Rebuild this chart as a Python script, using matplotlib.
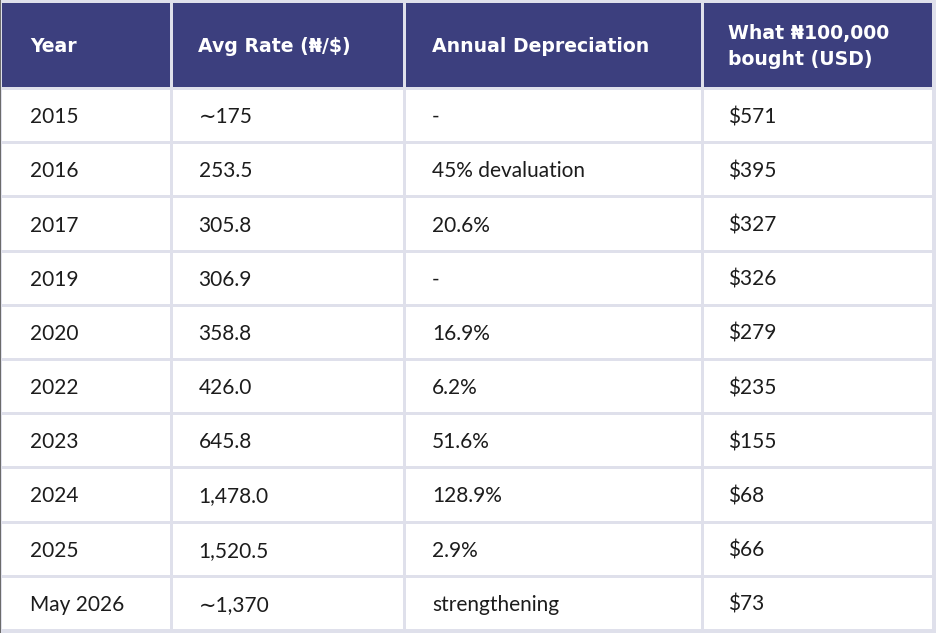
import matplotlib
matplotlib.use("Agg")
import matplotlib.pyplot as plt
from matplotlib.patches import Rectangle

headers = ["Year", "Avg Rate (₦/$)", "Annual Depreciation", "What ₦100,000\nbought (USD)"]
years = ["2015", "2016", "2017", "2019", "2020", "2022", "2023", "2024", "2025", "May 2026"]
avg_rate = ["∼175", "253.5", "305.8", "306.9", "358.8", "426.0", "645.8", "1,478.0", "1,520.5", "∼1,370"]
depreciation = ["-", "45% devaluation", "20.6%", "-", "16.9%", "6.2%", "51.6%", "128.9%", "2.9%", "strengthening"]
usd_value = ["$571", "$395", "$327", "$326", "$279", "$235", "$155", "$68", "$66", "$73"]

W, H = 936, 633
col_edges = [2, 171, 404, 702, 933]
pads = [28, 26, 26.5, 25]
header_top, header_bot = 3, 87
row_top0, row_pitch, gap = 90, 54.2, 3

HEAD_BG = "#3c3f7e"
GRID_BG = "#dfe0eb"
TEXT = "#1c1c1c"
FONT = ["Lato", "DejaVu Sans"]
HEAD_FONT = ["DejaVu Sans"]
BODY_FS = 15
HEAD_FS = 13.6

fig = plt.figure(figsize=(W / 100, H / 100), dpi=100)
fig.patch.set_facecolor(GRID_BG)
ax = fig.add_axes([0, 0, 1, 1])
ax.set_xlim(0, W)
ax.set_ylim(H, 0)
ax.axis("off")

# left dark edge
ax.add_patch(Rectangle((0, 0), 1.2, H, color="#6b6b6b", lw=0))

columns = [years, avg_rate, depreciation, usd_value]
px = 100 / 72.0

for j, head in enumerate(headers):
    x0 = col_edges[j] + (gap / 2 if j > 0 else 0)
    x1 = col_edges[j + 1] - gap / 2
    ax.add_patch(Rectangle((x0, header_top), x1 - x0, header_bot - header_top,
                           facecolor=HEAD_BG, lw=0))
    lines = head.split("\n")
    yc = (header_top + header_bot) / 2
    lh = 26
    for k, ln in enumerate(lines):
        yl = yc + (k - (len(lines) - 1) / 2) * lh
        ax.text(x0 + pads[j], yl + 0.36 * HEAD_FS * px, ln, color="white",
                fontsize=HEAD_FS, fontweight="bold", family=HEAD_FONT, va="baseline", ha="left")

for i in range(len(years)):
    y0 = row_top0 + i * row_pitch
    y1 = y0 + row_pitch - gap
    for j, col in enumerate(columns):
        x0 = col_edges[j] + (gap / 2 if j > 0 else 0)
        x1 = col_edges[j + 1] - gap / 2
        ax.add_patch(Rectangle((x0, y0), x1 - x0, y1 - y0, facecolor="white", lw=0))
        ax.text(x0 + pads[j], (y0 + y1) / 2 + 0.36 * BODY_FS * px, col[i], color=TEXT,
                fontsize=BODY_FS, family=FONT, va="baseline", ha="left")

fig.savefig("out.png", dpi=100, facecolor=GRID_BG)
